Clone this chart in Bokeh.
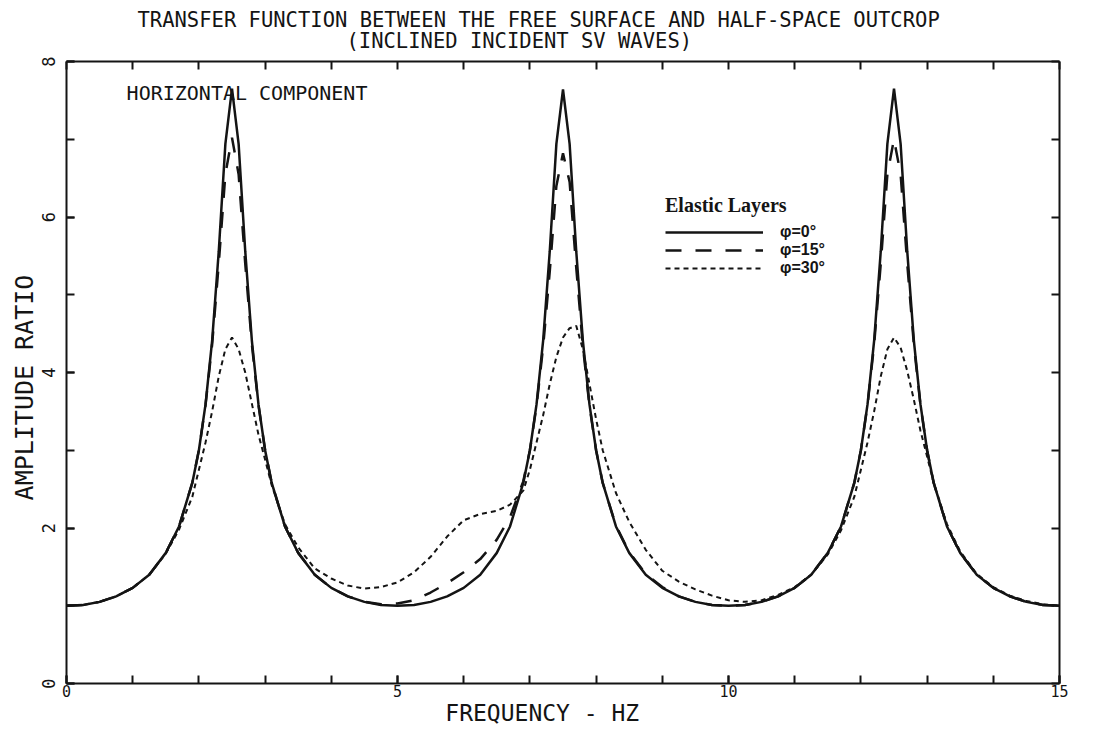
import math
from bokeh.plotting import figure
from bokeh.models import Range1d, LinearAxis, FixedTicker, Label, Legend, LegendItem, Title
from bokeh.embed import file_html
from bokeh.resources import INLINE

# ---------------- data ----------------
freq = [0.0, 0.25, 0.5, 0.75, 1.0, 1.25, 1.5, 1.7, 1.9, 2.0, 2.1, 2.2, 2.3, 2.4, 2.5,
        2.6, 2.7, 2.8, 2.9, 3.0, 3.1, 3.3, 3.5, 3.75, 4.0, 4.25, 4.5, 4.75,
        5.0, 5.25, 5.5, 5.75, 6.0, 6.25, 6.5, 6.7, 6.9, 7.0, 7.1, 7.2, 7.3, 7.4, 7.5,
        7.6, 7.7, 7.8, 7.9, 8.0, 8.1, 8.3, 8.5, 8.75, 9.0, 9.25, 9.5, 9.75,
        10.0, 10.25, 10.5, 10.75, 11.0, 11.25, 11.5, 11.7, 11.9, 12.0, 12.1, 12.2, 12.3, 12.4, 12.5,
        12.6, 12.7, 12.8, 12.9, 13.0, 13.1, 13.3, 13.5, 13.75, 14.0, 14.25, 14.5, 14.75, 15.0]

amp_phi0 = [1.00, 1.01, 1.05, 1.12, 1.23, 1.40, 1.68, 2.02, 2.58, 3.00, 3.59, 4.41, 5.56, 6.94, 7.65,
            6.94, 5.56, 4.41, 3.59, 3.00, 2.58, 2.02, 1.68, 1.40, 1.23, 1.12, 1.05, 1.01,
            1.00, 1.01, 1.05, 1.12, 1.23, 1.40, 1.68, 2.02, 2.58, 3.00, 3.59, 4.41, 5.56, 6.94, 7.64,
            6.94, 5.56, 4.41, 3.59, 3.00, 2.58, 2.02, 1.68, 1.40, 1.23, 1.12, 1.05, 1.01,
            1.00, 1.01, 1.05, 1.12, 1.23, 1.40, 1.68, 2.02, 2.58, 3.00, 3.59, 4.41, 5.56, 6.94, 7.65,
            6.94, 5.56, 4.41, 3.59, 3.00, 2.58, 2.02, 1.68, 1.40, 1.23, 1.12, 1.05, 1.01, 1.00]

amp_phi15 = [1.00, 1.01, 1.05, 1.12, 1.23, 1.40, 1.68, 2.02, 2.58, 3.00, 3.58, 4.36, 5.40, 6.55, 7.02,
             6.55, 5.40, 4.36, 3.58, 3.00, 2.58, 2.02, 1.68, 1.40, 1.23, 1.12, 1.05, 1.02,
             1.03, 1.07, 1.17, 1.29, 1.43, 1.60, 1.85, 2.14, 2.60, 3.00, 3.57, 4.33, 5.30, 6.40, 6.82,
             6.45, 5.35, 4.34, 3.57, 3.00, 2.58, 2.03, 1.69, 1.41, 1.24, 1.12, 1.05, 1.01,
             1.00, 1.01, 1.05, 1.12, 1.23, 1.40, 1.68, 2.02, 2.58, 3.00, 3.58, 4.36, 5.40, 6.55, 7.00,
             6.55, 5.40, 4.36, 3.58, 3.00, 2.58, 2.02, 1.68, 1.40, 1.23, 1.12, 1.05, 1.01, 1.00]

amp_phi30 = [1.00, 1.01, 1.05, 1.12, 1.23, 1.40, 1.67, 1.98, 2.40, 2.75, 3.10, 3.50, 3.95, 4.30, 4.45,
             4.30, 4.00, 3.60, 3.20, 2.88, 2.55, 2.05, 1.75, 1.48, 1.35, 1.26, 1.22, 1.24,
             1.30, 1.43, 1.63, 1.89, 2.10, 2.18, 2.22, 2.30, 2.48, 2.75, 3.10, 3.45, 3.85, 4.20, 4.45,
             4.57, 4.60, 4.30, 3.85, 3.40, 3.00, 2.45, 2.08, 1.72, 1.45, 1.31, 1.21, 1.13,
             1.07, 1.05, 1.07, 1.14, 1.24, 1.40, 1.66, 1.97, 2.40, 2.75, 3.10, 3.50, 3.95, 4.30, 4.45,
             4.32, 4.02, 3.65, 3.25, 2.92, 2.58, 2.05, 1.70, 1.41, 1.24, 1.13, 1.06, 1.02, 1.00]

x_major = [0, 5, 10, 15]
x_minor = list(range(0, 16))
y_major = [0, 2, 4, 6, 8]
y_minor = list(range(0, 9))

title_line1 = "TRANSFER FUNCTION BETWEEN THE FREE SURFACE AND HALF-SPACE OUTCROP"
title_line2 = "(INCLINED INCIDENT SV WAVES)"
panel_note = "HORIZONTAL COMPONENT"
x_title = "FREQUENCY - HZ"
y_title = "AMPLITUDE RATIO"
legend_title = "Elastic Layers"
series_labels = ["\u03c6=0\u00b0", "\u03c6=15\u00b0", "\u03c6=30\u00b0"]

INK = "#141414"
MONO = "DejaVu Sans Mono"
NBSP = "\u00a0"

# ---------------- figure ----------------
p = figure(width=1096, height=729, x_range=Range1d(0, 15), y_range=Range1d(0, 8),
           output_backend="svg", toolbar_location=None,
           min_border_left=66, min_border_right=37, min_border_top=61, min_border_bottom=46)
p.grid.visible = False
p.outline_line_color = None
p.background_fill_color = "white"
p.border_fill_color = "white"


def style_axis(ax, size="16px"):
    ax.axis_line_color = INK
    ax.axis_line_width = 2
    ax.major_tick_line_color = INK
    ax.minor_tick_line_color = INK
    ax.major_tick_line_width = 2
    ax.minor_tick_line_width = 2
    ax.major_tick_in = 8
    ax.major_tick_out = 0
    ax.minor_tick_in = 8
    ax.minor_tick_out = 0
    ax.major_label_text_font = MONO
    ax.major_label_text_font_size = size
    ax.major_label_text_color = INK
    ax.axis_label_text_font = MONO
    ax.axis_label_text_font_style = "normal"
    ax.axis_label_text_color = INK


xa = p.xaxis[0]
xa.ticker = FixedTicker(ticks=x_major, minor_ticks=x_minor)
style_axis(xa, "15px")
xa.major_label_standoff = 1
xa.axis_label = x_title + NBSP * 3
xa.axis_label_text_font_size = "23px"
xa.axis_label_standoff = 0

ya = p.yaxis[0]
ya.ticker = FixedTicker(ticks=y_major, minor_ticks=y_minor)
style_axis(ya, "17px")
ya.major_label_orientation = "vertical"
ya.major_label_standoff = 12
ya.axis_label = y_title + NBSP * 2
ya.axis_label_text_font_size = "25px"
ya.axis_label_standoff = 0

top = LinearAxis(ticker=FixedTicker(ticks=[], minor_ticks=x_minor))
style_axis(top)
top.major_label_standoff = 0
top.axis_label_standoff = 0
p.add_layout(top, "above")
right = LinearAxis(ticker=FixedTicker(ticks=[], minor_ticks=y_minor))
style_axis(right)
right.major_label_standoff = 0
right.axis_label_standoff = 0
p.add_layout(right, "right")

# titles (first added sits closest to the frame)
p.add_layout(Title(text=title_line2, align="left", offset=280, standoff=18,
                   text_font=MONO, text_font_size="20.5px", text_font_style="normal",
                   text_color=INK), "above")
p.add_layout(Title(text=title_line1, align="left", offset=71, standoff=-29,
                   text_font=MONO, text_font_size="20.5px", text_font_style="normal",
                   text_color=INK), "above")

# ---------------- curves ----------------
r0 = p.line(freq, amp_phi0, line_color=INK, line_width=2.5)
r15 = p.line(freq, amp_phi15, line_color=INK, line_width=2.5, line_dash="16 14")
r30 = p.line(freq, amp_phi30, line_color=INK, line_width=2, line_dash="5 4")

legend = Legend(items=[LegendItem(label=series_labels[0], renderers=[r0]),
                       LegendItem(label=series_labels[1], renderers=[r15]),
                       LegendItem(label=series_labels[2], renderers=[r30])],
                location=(599, 406), title=legend_title,
                title_text_font="Liberation Serif", title_text_font_style="bold",
                title_text_font_size="20px", title_text_color=INK, title_standoff=6,
                label_text_font="Liberation Sans", label_text_font_style="bold",
                label_text_font_size="16px", label_text_color=INK,
                glyph_width=98, glyph_height=16, label_height=16, label_standoff=17,
                spacing=0, padding=0, margin=0,
                border_line_color=None, background_fill_alpha=0)
p.add_layout(legend)

# in-plot note
p.add_layout(Label(x=2.727, y=7.601, text=panel_note, text_font=MONO, text_font_size="20px",
                   text_color=INK, text_align="center", text_baseline="middle"))

open("out.html", "w").write(file_html(p, INLINE))
